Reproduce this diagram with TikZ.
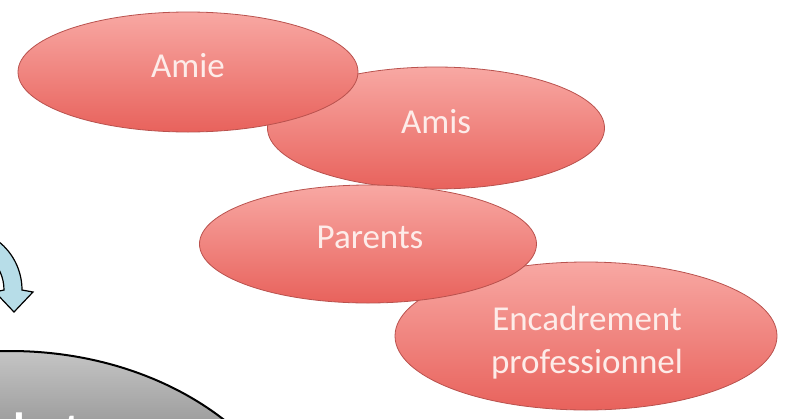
\documentclass[tikz,border=0pt]{standalone}
\usepackage{fontspec}
\setmainfont{Carlito}
\usetikzlibrary{shapes.geometric}
\definecolor{redtop}{RGB}{248,168,163}
\definecolor{redbot}{RGB}{232,98,92}
\definecolor{redline}{RGB}{185,82,78}
\definecolor{redtext}{RGB}{253,236,233}
\definecolor{arrowblue}{RGB}{183,221,232}
\definecolor{graytop}{RGB}{200,200,200}
\definecolor{graybot}{RGB}{160,160,160}
\begin{document}
\begin{tikzpicture}[x=1pt,y=-1pt,
  bubble/.style={ellipse, draw=redline, line width=0.8pt, top color=redtop, bottom color=redbot, inner sep=0pt},
  bubbletext/.style={text=redtext, font=\fontsize{35}{43}\selectfont, align=center, inner sep=0pt}]
\useasboundingbox (0,0) rectangle (789,418);
\clip (0,0) rectangle (789,418);
% red bubbles
\node[bubble, minimum width=337pt, minimum height=122pt] (amis) at (436,128) {};
\node[bubble, minimum width=382pt, minimum height=148pt] (enc) at (586,336) {};
\node[bubble, minimum width=337pt, minimum height=118pt] (parents) at (368,244) {};
\node[bubble, minimum width=340pt, minimum height=120pt] (amie) at (188,72) {};
\node[bubbletext, anchor=base] (amieT) at (188,77) {Amie};
\node[bubbletext, anchor=base] (amisT) at (436,133) {Amis};
\node[bubbletext, anchor=base] (parentsT) at (370,248) {Parents};
\node[bubbletext, anchor=center] (encT) at (587,343) {Encadrement\\professionnel};
% gray ellipse
\begin{scope}
\clip (10,581) ellipse [x radius=300, y radius=230];
\shade[top color=graytop, bottom color=graybot] (0,345) rectangle (320,418);
\end{scope}
\draw[line width=2pt] (10,581) ellipse [x radius=300, y radius=230];
\node[anchor=base west, text=white, font=\fontsize{48}{58}\selectfont\bfseries, inner sep=0pt] (chuteT) at (13,446) {hute};
% blue curved arrow
\draw[fill=arrowblue, line width=1.2pt, line join=miter]
  (-40,228) arc[start angle=-90, end angle=0, radius=62]
  -- (33,292) -- (14,312) -- (-5,292) -- (4,290)
  arc[start angle=0, end angle=-90, radius=44] -- cycle;
\end{tikzpicture}
\end{document}
